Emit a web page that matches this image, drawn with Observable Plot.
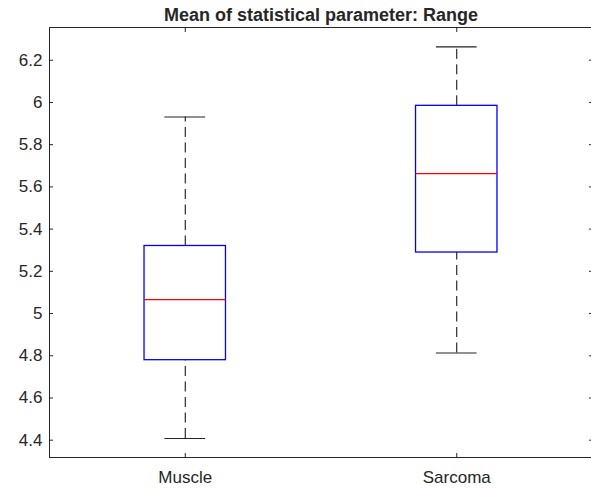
<!DOCTYPE html>
<html><head><meta charset="utf-8">
<script src="https://cdn.jsdelivr.net/npm/d3@7"></script>
<script src="https://cdn.jsdelivr.net/npm/@observablehq/plot@0.6"></script>
<style>body{margin:0;background:#fff} svg{display:block}</style>
</head><body><div id="chart"></div>
<script>
const categories = ["Muscle", "Sarcoma"];
const lowerWhisker = [4.408, 4.813];
const q1 = [4.779, 5.289];
const median = [5.066, 5.663];
const q3 = [5.320, 5.984];
const upperWhisker = [5.931, 6.263];
const yTicks = [4.4, 4.6, 4.8, 5, 5.2, 5.4, 5.6, 5.8, 6, 6.2];
const titleText = "Mean of statistical parameter: Range";

const rows = categories.map((c, i) => ({cat: c, pos: i + 1, lo: lowerWhisker[i], q1: q1[i], med: median[i], q3: q3[i], hi: upperWhisker[i]}));
const boxHalf = 0.15, capHalf = 0.075;
const ink = "#262626";
const fmt = d => String(+d.toFixed(1));

const chart = Plot.plot({
  width: 591, height: 488,
  marginLeft: 49, marginRight: -1, marginTop: 27, marginBottom: 31,
  style: {fontFamily: "'Liberation Sans', Arial, sans-serif", fontSize: "17px", color: ink, background: "#fff", overflow: "hidden"},
  x: {type: "linear", domain: [0.5, 2.5]},
  y: {domain: [4.318, 6.355]},
  marks: [
    Plot.ruleX(rows, {x: "pos", y1: "q3", y2: "hi", stroke: "black", strokeDasharray: "10,5.5", strokeWidth: 1}),
    Plot.ruleX(rows, {x: "pos", y1: "lo", y2: "q1", stroke: "black", strokeDasharray: "10,5.5", strokeWidth: 1}),
    Plot.ruleY(rows, {y: "hi", x1: d => d.pos - capHalf, x2: d => d.pos + capHalf, stroke: "#222", strokeWidth: 1.2}),
    Plot.ruleY(rows, {y: "lo", x1: d => d.pos - capHalf, x2: d => d.pos + capHalf, stroke: "#222", strokeWidth: 1.2}),
    Plot.rect(rows, {x1: d => d.pos - boxHalf, x2: d => d.pos + boxHalf, y1: "q1", y2: "q3", stroke: "#0000ff", fill: "none", strokeWidth: 1.3}),
    Plot.ruleY(rows, {y: "med", x1: d => d.pos - boxHalf, x2: d => d.pos + boxHalf, stroke: "#ff0000", strokeWidth: 1.2}),
    Plot.frame({anchor: "left", stroke: ink, strokeWidth: 1}),
    Plot.frame({anchor: "top", stroke: ink, strokeWidth: 1}),
    Plot.frame({anchor: "bottom", stroke: ink, strokeWidth: 1}),
    Plot.axisY({anchor: "left", ticks: yTicks, tickSize: -4, tickPadding: 11, tickFormat: fmt, label: null}),
    Plot.axisY({anchor: "right", ticks: yTicks, tickSize: -4, tickFormat: () => "", label: null}),
    Plot.axisX({anchor: "bottom", ticks: [1, 2], tickSize: -4, tickPadding: 17, tickFormat: d => categories[d - 1], label: null}),
    Plot.axisX({anchor: "top", ticks: [1, 2], tickSize: -4, tickFormat: () => "", label: null}),
    Plot.text([titleText], {text: d => d, frameAnchor: "top", lineAnchor: "bottom", dy: -7, fontWeight: "bold", fontSize: 18, fill: ink})
  ]
});
document.getElementById("chart").appendChild(chart);
</script>
</body></html>
